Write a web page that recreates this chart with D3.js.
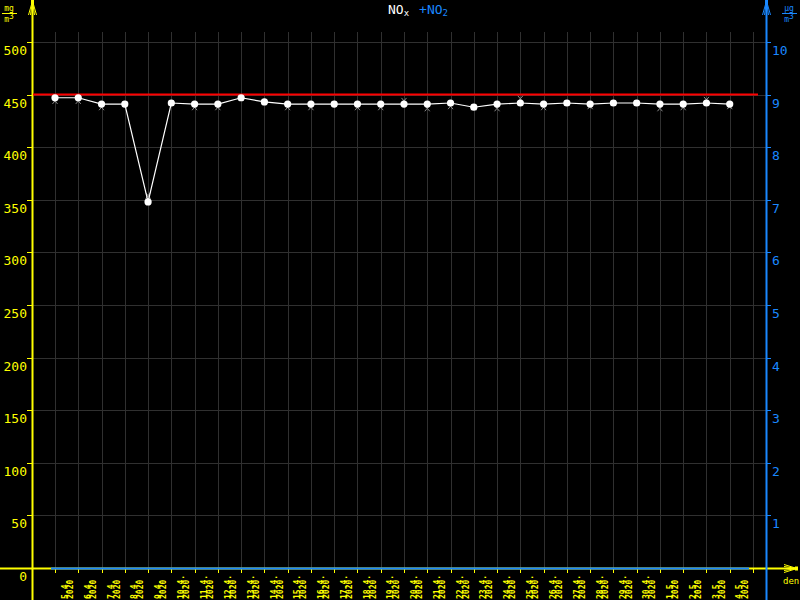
<!DOCTYPE html>
<html>
<head>
<meta charset="utf-8">
<script src="https://cdn.jsdelivr.net/npm/d3@7"></script>
<style>
  html, body { margin: 0; padding: 0; background: #000; }
  svg { display: block; }
  text { font-family: "DejaVu Sans Mono", monospace; }
</style>
</head>
<body>
<div class="container"></div>
<script>
// day labels (one per day, 5.4.2020 - 4.5.2020)
const days = ['5.4.', '6.4.', '7.4.', '8.4.', '9.4.', '10.4.', '11.4.', '12.4.', '13.4.', '14.4.',
  '15.4.', '16.4.', '17.4.', '18.4.', '19.4.', '20.4.', '21.4.', '22.4.', '23.4.', '24.4.',
  '25.4.', '26.4.', '27.4.', '28.4.', '29.4.', '30.4.', '1.5.', '2.5.', '3.5.', '4.5.'];
const year = '2020';
// NOx daily values, mg/m3 (white dots)
const noxValues = [447, 447, 441, 441, 348, 442, 441, 441, 447, 443,
  441, 441, 441, 441, 441, 441, 441, 442, 438, 441,
  442, 441, 442, 441, 442, 442, 441, 441, 442, 441];
// secondary readings (grey crosses)
const noxMarks = [444, 444, 438, 441, 354, 442, 438, 438, 447, 443,
  438, 438, 441, 438, 438, 444, 437, 439, 438, 437,
  446, 438, 442, 439, 442, 442, 437, 438, 445, 439];
const limitValue = 450;
const leftTicks = [0, 50, 100, 150, 200, 250, 300, 350, 400, 450, 500];
const rightTicks = [1, 2, 3, 4, 5, 6, 7, 8, 9, 10];

const width = 800, height = 600;
const yellow = '#ffff00', blue = '#1a88ff', grid = '#303030';
const axisL = 32, axisR = 766, base = 568, gridTop = 32;

const svg = d3.select('.container').append('svg')
  .attr('width', width).attr('height', height);
svg.append('rect').attr('width', width).attr('height', height).attr('fill', '#000');

const x = d3.scaleLinear().domain([0, days.length]).range([55, 753]);
const y = d3.scaleLinear().domain([0, 500]).range([base, 42]);
const yR = d3.scaleLinear().domain([0, 10]).range([base, 42]);

// grid
const g = svg.append('g').attr('shape-rendering', 'crispEdges');
g.selectAll('.hgrid').data(leftTicks.filter(d => d > 0)).enter().append('line')
  .attr('x1', axisL).attr('x2', axisR)
  .attr('y1', d => Math.round(y(d)) + 0.5).attr('y2', d => Math.round(y(d)) + 0.5)
  .attr('stroke', grid);
g.selectAll('.vgrid').data(d3.range(days.length + 1)).enter().append('line')
  .attr('x1', d => Math.round(x(d)) + 0.5).attr('x2', d => Math.round(x(d)) + 0.5)
  .attr('y1', gridTop).attr('y2', base)
  .attr('stroke', grid);

// x axis ticks
g.selectAll('.xtick').data(d3.range(days.length + 1)).enter().append('line')
  .attr('x1', d => Math.round(x(d)) + 0.5).attr('x2', d => Math.round(x(d)) + 0.5)
  .attr('y1', base).attr('y2', base + 5)
  .attr('stroke', yellow);

// x axis line
svg.append('line').attr('x1', 0).attr('x2', 797)
  .attr('y1', base + 0.5).attr('y2', base + 0.5)
  .attr('stroke', yellow).attr('stroke-width', 2);
svg.append('line').attr('x1', x(0) - 4).attr('x2', x(days.length) - 4)
  .attr('y1', base + 0.5).attr('y2', base + 0.5)
  .attr('stroke', blue).attr('stroke-width', 2);
// x arrow
const ax = svg.append('g').attr('stroke', yellow);
[-4, -2, 2, 4].forEach(o => {
  ax.append('line').attr('x1', 797).attr('y1', base + 0.5).attr('x2', 784).attr('y2', base + 0.5 + o);
});
svg.append('rect').attr('x', 795).attr('y', base - 1.5).attr('width', 3).attr('height', 4).attr('fill', yellow);
svg.append('text').attr('x', 783).attr('y', 584).attr('fill', yellow)
  .attr('font-size', 9).text('den');

// x labels (rotated, two lines: day and year)
const xl = svg.append('g').attr('fill', yellow).attr('font-size', 8).attr('font-weight', 'bold');
days.forEach((d, i) => {
  const cx = x(i + 0.5);
  xl.append('text').attr('text-anchor', 'start')
    .attr('transform', `translate(${cx + 1},599) rotate(-90)`).text(d);
  xl.append('text').attr('text-anchor', 'start')
    .attr('transform', `translate(${cx + 6.5},599) rotate(-90)`).text(year);
});

// left axis
svg.append('line').attr('x1', axisL + 0.5).attr('x2', axisL + 0.5).attr('y1', 0).attr('y2', height)
  .attr('stroke', yellow).attr('stroke-width', 2);
svg.append('g').selectAll('line').data(leftTicks).enter().append('line')
  .attr('x1', axisL - 5).attr('x2', axisL)
  .attr('y1', d => Math.round(y(d)) + 0.5).attr('y2', d => Math.round(y(d)) + 0.5)
  .attr('stroke', yellow);
svg.append('g').selectAll('text').data(leftTicks).enter().append('text')
  .attr('x', 27).attr('y', d => y(d) + 13)
  .attr('text-anchor', 'end').attr('fill', yellow).attr('font-size', 13)
  .text(d => d);

// right axis
svg.append('line').attr('x1', axisR + 0.5).attr('x2', axisR + 0.5).attr('y1', 0).attr('y2', height)
  .attr('stroke', blue).attr('stroke-width', 2);
svg.append('g').selectAll('line').data(rightTicks).enter().append('line')
  .attr('x1', axisR).attr('x2', axisR + 5)
  .attr('y1', d => Math.round(yR(d)) + 0.5).attr('y2', d => Math.round(yR(d)) + 0.5)
  .attr('stroke', blue);
svg.append('g').selectAll('text').data(rightTicks).enter().append('text')
  .attr('x', 772).attr('y', d => yR(d) + 13)
  .attr('fill', blue).attr('font-size', 13)
  .text(d => d);

// axis arrows at top
function upArrow(cx, color) {
  const a = svg.append('g').attr('stroke', color);
  [-4, -2, 2, 4].forEach(o => {
    a.append('line').attr('x1', cx + 0.5).attr('y1', 1).attr('x2', cx + 0.5 + o).attr('y2', 15);
  });
  svg.append('rect').attr('x', cx - 1).attr('y', 0).attr('width', 3).attr('height', 5).attr('fill', color);
}
upArrow(axisL, yellow);
upArrow(axisR, blue);

// units
function unit(cx, top, color, num) {
  const u = svg.append('g').attr('fill', color).attr('font-size', 8).attr('text-anchor', 'middle');
  u.append('text').attr('x', cx).attr('y', top + 6).text(num);
  u.append('line').attr('x1', cx - 7).attr('x2', cx + 8).attr('y1', top + 8.5).attr('y2', top + 8.5)
    .attr('stroke', color);
  const t = u.append('text').attr('x', cx).attr('y', top + 17);
  t.append('tspan').text('m');
  t.append('tspan').attr('dy', -3).text('3');
}
unit(9, 5, yellow, 'mg');
unit(789, 5, blue, 'µg');

// title
const title = svg.append('text').attr('x', 388).attr('y', 14).attr('font-size', 13);
title.append('tspan').attr('fill', '#fff').text('NO');
title.append('tspan').attr('fill', '#fff').attr('font-size', 9).attr('dy', 2).text('x');
title.append('tspan').attr('fill', blue).attr('dy', -2).attr('dx', 10).text('+NO');
title.append('tspan').attr('fill', blue).attr('font-size', 9).attr('dy', 2).text('2');

// limit line
svg.append('line').attr('x1', axisL + 1).attr('x2', 758)
  .attr('y1', y(limitValue)).attr('y2', y(limitValue))
  .attr('stroke', '#ff0000').attr('stroke-width', 2);

// grey crosses
const marks = svg.append('g').attr('stroke', '#8a8a8a').attr('stroke-width', 1);
noxMarks.forEach((v, i) => {
  const cx = x(i), cy = y(v);
  marks.append('line').attr('x1', cx - 2.5).attr('y1', cy - 3).attr('x2', cx + 2.5).attr('y2', cy + 3);
  marks.append('line').attr('x1', cx + 2.5).attr('y1', cy - 3).attr('x2', cx - 2.5).attr('y2', cy + 3);
});

// NOx line and dots
const line = d3.line().x((d, i) => x(i)).y(d => y(d));
svg.append('path').datum(noxValues).attr('d', line)
  .attr('fill', 'none').attr('stroke', '#fff').attr('stroke-width', 1.2);
svg.append('g').selectAll('circle').data(noxValues).enter().append('circle')
  .attr('cx', (d, i) => x(i)).attr('cy', d => y(d)).attr('r', 3.6)
  .attr('fill', '#fff');
</script>
</body>
</html>
